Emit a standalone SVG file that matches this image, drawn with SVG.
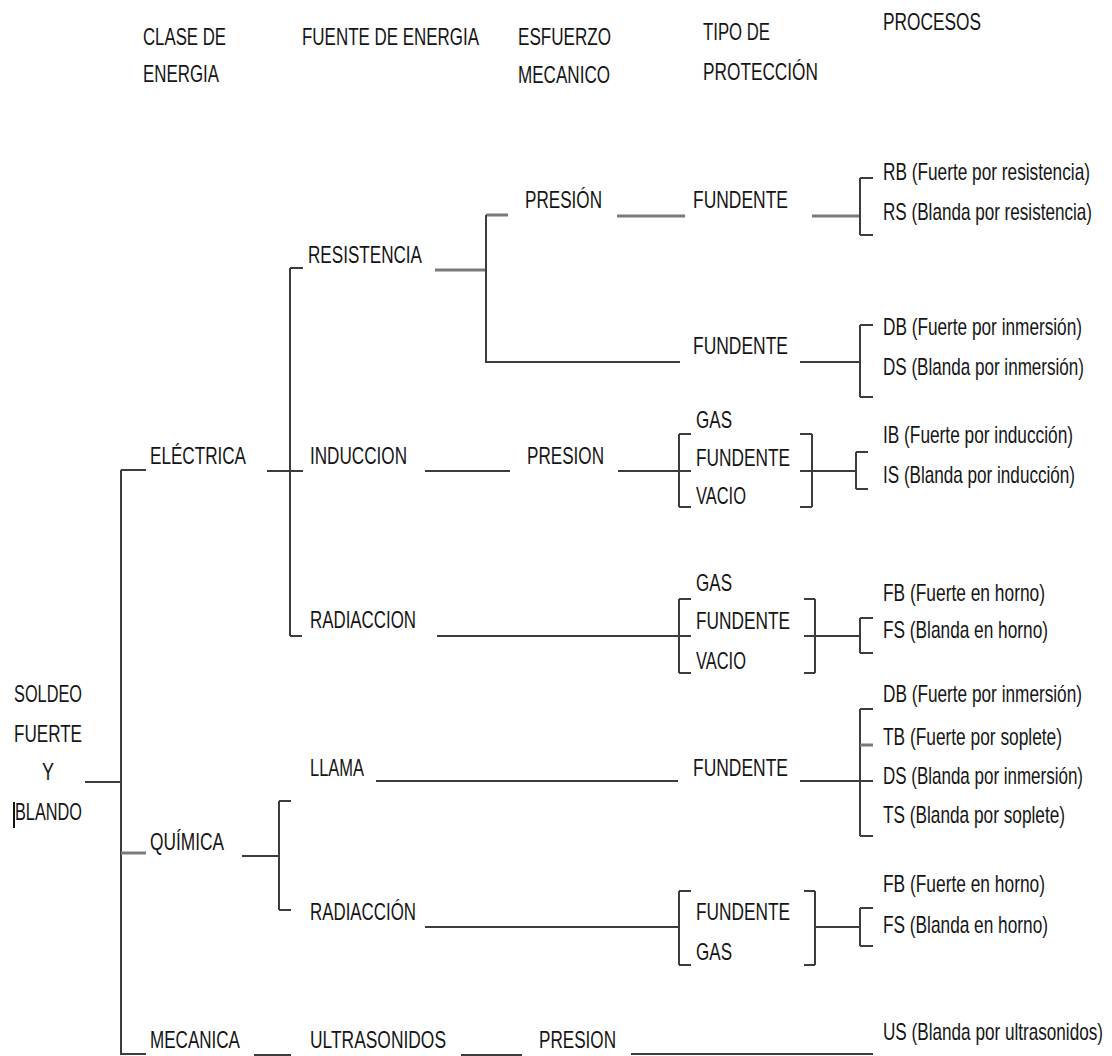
<svg xmlns="http://www.w3.org/2000/svg" width="1112" height="1056" viewBox="0 0 1112 1056">
<style>
.t{font-family:"Liberation Sans",Arial,sans-serif;font-size:24px;fill:#151515}
.c{stroke:#3c3c3c;stroke-width:2;fill:none}
.g{stroke:#7a7a7a;stroke-width:3;fill:none}
</style>
<rect width="1112" height="1056" fill="#fff"/>
<g id="headers">
<text class="t" x="143" y="45" textLength="83" lengthAdjust="spacingAndGlyphs">CLASE DE</text>
<text class="t" x="143" y="82" textLength="76" lengthAdjust="spacingAndGlyphs">ENERGIA</text>
<text class="t" x="302" y="45" textLength="177" lengthAdjust="spacingAndGlyphs">FUENTE DE ENERGIA</text>
<text class="t" x="518" y="45" textLength="93" lengthAdjust="spacingAndGlyphs">ESFUERZO</text>
<text class="t" x="518" y="83" textLength="92" lengthAdjust="spacingAndGlyphs">MECANICO</text>
<text class="t" x="703" y="40" textLength="67" lengthAdjust="spacingAndGlyphs">TIPO DE</text>
<text class="t" x="703" y="80" textLength="115" lengthAdjust="spacingAndGlyphs">PROTECCIÓN</text>
<text class="t" x="883" y="30" textLength="98" lengthAdjust="spacingAndGlyphs">PROCESOS</text>
</g>
<g id="connectors">
<path class="c" d="M85 782H121M121 470V1055M121 470H146M121 1054H146"/>
<path class="g" d="M121 853H146"/>
<path class="c" d="M267 471H303M290 268V636M290 268H303M290 636H302"/>
<path class="g" d="M435 270H486M486 215H508M617 216H685M812 216H860"/>
<path class="c" d="M486 215V362H680M860 178V235M860 178H873M860 235H873"/>
<path class="c" d="M800 362H860M860 325V397M860 325H873M860 397H873"/>
<path class="c" d="M425 471H510M618 471H691M679 434V507M679 434H691M679 507H691M812 434V507M800 434H812M800 507H812M800 471H857M856 452V489M856 452H868M856 489H868"/>
<path class="c" d="M437 636H691M679 599V673M679 599H691M679 673H691M815 599V673M804 599H815M804 673H815M804 636H860M860 618V653M860 618H873M860 653H873"/>
<path class="c" d="M242 856H279M279 801V910M279 801H291M279 910H291"/>
<path class="c" d="M376 781H678M800 781H873M860 709V836M860 709H873M860 836H873"/>
<path class="g" d="M860 745H873"/>
<path class="c" d="M425 927H679M679 891V965M679 891H691M679 965H691M815 891V965M804 891H815M804 965H815M815 927H860M860 908V946M860 908H873M860 946H873"/>
<path class="c" d="M254 1055H291M461 1055H522M631 1054H873"/>
<path d="M14 802V828" stroke="#111" stroke-width="2"/>
</g>
<g id="n-soldeo">
<text class="t" x="14" y="702" textLength="68" lengthAdjust="spacingAndGlyphs">SOLDEO</text>
<text class="t" x="14" y="742" textLength="68" lengthAdjust="spacingAndGlyphs">FUERTE</text>
<text class="t" x="42" y="780" textLength="12" lengthAdjust="spacingAndGlyphs">Y</text>
<text class="t" x="15" y="820" textLength="67" lengthAdjust="spacingAndGlyphs">BLANDO</text>
</g>
<g id="n-electrica"><text class="t" x="150" y="464" textLength="96" lengthAdjust="spacingAndGlyphs">ELÉCTRICA</text></g>
<g id="n-quimica"><text class="t" x="150" y="850" textLength="74" lengthAdjust="spacingAndGlyphs">QUÍMICA</text></g>
<g id="n-mecanica"><text class="t" x="150" y="1048" textLength="90" lengthAdjust="spacingAndGlyphs">MECANICA</text></g>
<g id="n-resistencia"><text class="t" x="308" y="263" textLength="114" lengthAdjust="spacingAndGlyphs">RESISTENCIA</text></g>
<g id="n-induccion"><text class="t" x="310" y="464" textLength="97" lengthAdjust="spacingAndGlyphs">INDUCCION</text></g>
<g id="n-radiaccion1"><text class="t" x="310" y="628" textLength="106" lengthAdjust="spacingAndGlyphs">RADIACCION</text></g>
<g id="n-llama"><text class="t" x="310" y="776" textLength="54" lengthAdjust="spacingAndGlyphs">LLAMA</text></g>
<g id="n-radiaccion2"><text class="t" x="310" y="920" textLength="106" lengthAdjust="spacingAndGlyphs">RADIACCIÓN</text></g>
<g id="n-ultrasonidos"><text class="t" x="310" y="1048" textLength="136" lengthAdjust="spacingAndGlyphs">ULTRASONIDOS</text></g>
<g id="n-presion1"><text class="t" x="525" y="208" textLength="77" lengthAdjust="spacingAndGlyphs">PRESIÓN</text></g>
<g id="n-presion2"><text class="t" x="527" y="464" textLength="77" lengthAdjust="spacingAndGlyphs">PRESION</text></g>
<g id="n-presion3"><text class="t" x="539" y="1048" textLength="77" lengthAdjust="spacingAndGlyphs">PRESION</text></g>
<g id="n-fundente1"><text class="t" x="693" y="208" textLength="95" lengthAdjust="spacingAndGlyphs">FUNDENTE</text></g>
<g id="n-fundente2"><text class="t" x="693" y="354" textLength="95" lengthAdjust="spacingAndGlyphs">FUNDENTE</text></g>
<g id="n-prot-induccion">
<text class="t" x="696" y="428" textLength="36" lengthAdjust="spacingAndGlyphs">GAS</text>
<text class="t" x="696" y="466" textLength="94" lengthAdjust="spacingAndGlyphs">FUNDENTE</text>
<text class="t" x="696" y="504" textLength="50" lengthAdjust="spacingAndGlyphs">VACIO</text>
</g>
<g id="n-prot-radiaccion1">
<text class="t" x="696" y="591" textLength="36" lengthAdjust="spacingAndGlyphs">GAS</text>
<text class="t" x="696" y="629" textLength="94" lengthAdjust="spacingAndGlyphs">FUNDENTE</text>
<text class="t" x="696" y="669" textLength="50" lengthAdjust="spacingAndGlyphs">VACIO</text>
</g>
<g id="n-fundente-llama"><text class="t" x="693" y="776" textLength="95" lengthAdjust="spacingAndGlyphs">FUNDENTE</text></g>
<g id="n-prot-radiaccion2">
<text class="t" x="696" y="920" textLength="94" lengthAdjust="spacingAndGlyphs">FUNDENTE</text>
<text class="t" x="696" y="960" textLength="36" lengthAdjust="spacingAndGlyphs">GAS</text>
</g>
<g id="p-resistencia">
<text class="t" x="883" y="180" textLength="207" lengthAdjust="spacingAndGlyphs">RB (Fuerte por resistencia)</text>
<text class="t" x="883" y="220" textLength="209" lengthAdjust="spacingAndGlyphs">RS (Blanda por resistencia)</text>
</g>
<g id="p-inmersion">
<text class="t" x="883" y="335" textLength="199" lengthAdjust="spacingAndGlyphs">DB (Fuerte por inmersión)</text>
<text class="t" x="883" y="375" textLength="201" lengthAdjust="spacingAndGlyphs">DS (Blanda por inmersión)</text>
</g>
<g id="p-induccion">
<text class="t" x="883" y="443" textLength="190" lengthAdjust="spacingAndGlyphs">IB (Fuerte por inducción)</text>
<text class="t" x="883" y="483" textLength="192" lengthAdjust="spacingAndGlyphs">IS (Blanda por inducción)</text>
</g>
<g id="p-horno1">
<text class="t" x="883" y="601" textLength="162" lengthAdjust="spacingAndGlyphs">FB (Fuerte en horno)</text>
<text class="t" x="883" y="638" textLength="165" lengthAdjust="spacingAndGlyphs">FS (Blanda en horno)</text>
</g>
<g id="p-llama">
<text class="t" x="883" y="702" textLength="199" lengthAdjust="spacingAndGlyphs">DB (Fuerte por inmersión)</text>
<text class="t" x="883" y="745" textLength="179" lengthAdjust="spacingAndGlyphs">TB (Fuerte por soplete)</text>
<text class="t" x="883" y="784" textLength="200" lengthAdjust="spacingAndGlyphs">DS (Blanda por inmersión)</text>
<text class="t" x="883" y="823" textLength="182" lengthAdjust="spacingAndGlyphs">TS (Blanda por soplete)</text>
</g>
<g id="p-horno2">
<text class="t" x="883" y="892" textLength="162" lengthAdjust="spacingAndGlyphs">FB (Fuerte en horno)</text>
<text class="t" x="883" y="933" textLength="165" lengthAdjust="spacingAndGlyphs">FS (Blanda en horno)</text>
</g>
<g id="p-ultrasonidos">
<text class="t" x="883" y="1040" textLength="220" lengthAdjust="spacingAndGlyphs">US (Blanda por ultrasonidos)</text>
</g>
</svg>
